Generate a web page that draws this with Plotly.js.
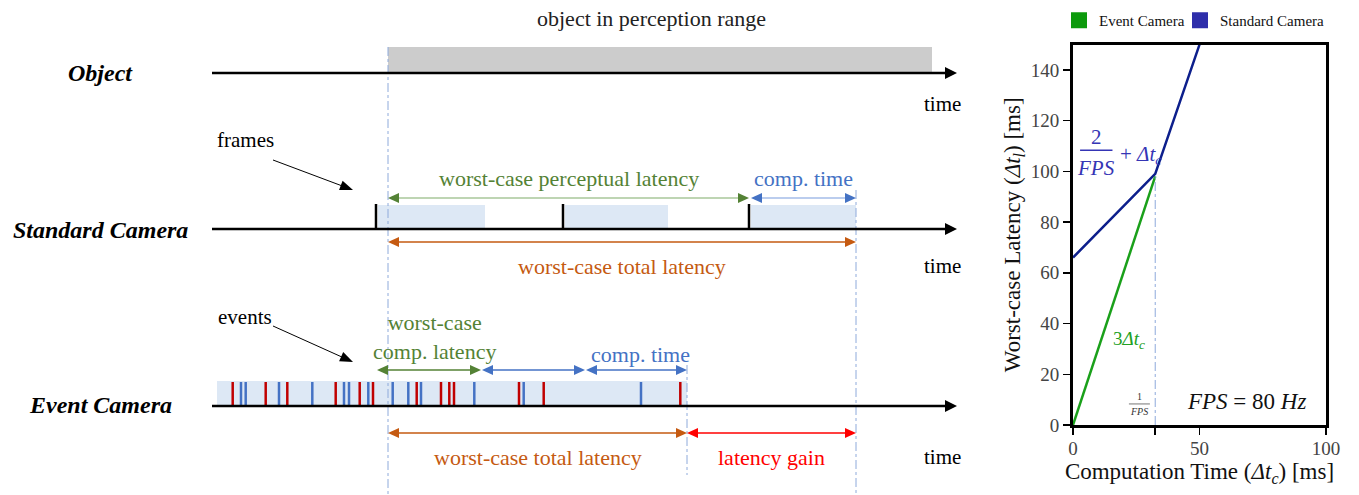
<!DOCTYPE html>
<html><head><meta charset="utf-8">
<script src="https://cdn.plot.ly/plotly-3.0.1.min.js"></script>
<style>html,body{margin:0;padding:0;background:#fff}#chart{width:1359px;height:495px}</style>
</head><body><div id="chart"></div>
<script>
// ---------- Right chart data ----------
const stdCompTime = [0, 32.5, 50];
const stdLatency = [66, 99, 150];
const evtCompTime = [0, 32.5];
const evtLatency = [0, 98];
const invFps = 32.5;              // 1/FPS position on the Δt_c axis (ms)
const invFpsLatency = 98;
const xTickVals = [0, 50, 100];
const xMinorTicks = [32.5];
const yTickVals = [0, 20, 40, 60, 80, 100, 120, 140];
const legendNames = ['Event Camera', 'Standard Camera'];

// ---------- Left timing diagram data (timeline units) ----------
const timelineStart = 212;
const timelineEnd = 957;
const objectAppear = 388;
const objectLeave = 932;
const frameTimes = [376, 563, 749];
const frameProcEnd = [485, 668, 856];
const eventWindow = [217, 687];
const redEvents = [232.7, 265.7, 287.3, 335.7, 359.7, 373, 416.7, 441, 449.3, 454, 519, 543.7, 680.3];
const blueEvents = [241, 245.7, 279, 312.3, 344, 349, 368.3, 392.7, 408.3, 421, 474.3, 523.7, 641];
const stdPerceptual = [388, 749];
const stdCompute = [751, 856];
const stdTotal = [388, 856];
const evtCompLatency = [377, 481];
const evtCompute1 = [482, 585];
const evtCompute2 = [586, 687];
const evtTotal = [388, 687];
const latencyGain = [687, 856];

// row levels (diagram vertical units)
const ROW = {object: 73, standard: 229, event: 406};

const SERIF = '"Liberation Serif", "Times New Roman", serif';
const GREEN = '#548235', GREEN_L = '#a9c79a';
const BLUE = '#4472c4', BLUE_L = '#a4bde8';
const ORANGE = '#c55a11', RED = '#ff0000';
const EVRED = '#c00000';
const PALE = '#dde8f5';

const ann = [];
const shapes = [];

function txt(x, y, text, size, color, extra) {
  ann.push(Object.assign({xref: 'x', yref: 'y', x: x, y: y, text: text, showarrow: false,
    font: {family: SERIF, size: size, color: color}, xanchor: 'center', yanchor: 'middle'}, extra || {}));
}
function line(x0, y0, x1, y1, color, width) {
  shapes.push({type: 'line', xref: 'x', yref: 'y', x0: x0, y0: y0, x1: x1, y1: y1,
    line: {color: color, width: width}, layer: 'above'});
}
// filled triangular head whose tip is at (tx,ty), pointing away from (fx,fy)
function head(tx, ty, fx, fy, len, half, color) {
  const dx = tx - fx, dy = ty - fy, L = Math.hypot(dx, dy);
  const ux = dx / L, uy = dy / L, nx = -uy, ny = ux;
  const bx = tx - ux * len, by = ty - uy * len;
  const p = 'M' + tx + ',' + ty + ' L' + (bx + nx * half) + ',' + (by + ny * half) +
            ' L' + (bx - nx * half) + ',' + (by - ny * half) + ' Z';
  shapes.push({type: 'path', xref: 'x', yref: 'y', path: p, fillcolor: color, line: {width: 0}, layer: 'above'});
}
function arrow(x0, y0, x1, y1, color, width, len, half) {
  const L = Math.hypot(x1 - x0, y1 - y0);
  line(x0, y0, x1 - (x1 - x0) / L * (len - 2), y1 - (y1 - y0) / L * (len - 2), color, width);
  head(x1, y1, x0, y0, len, half, color);
}
function dim(range, y, lineColor, headColor) {
  line(range[0] + 6, y, range[1] - 6, y, lineColor, 1.5);
  head(range[1], y, range[0], y, 11, 5, headColor);
  head(range[0], y, range[1], y, 11, 5, headColor);
}
function vdash(x, y0, y1) {
  shapes.push({type: 'line', xref: 'x', yref: 'y', x0: x, x1: x, y0: y0, y1: y1,
    line: {color: '#8eaadb', width: 1, dash: 'dashdot'}, layer: 'above'});
}

// ---- background boxes ----
shapes.push({type: 'rect', xref: 'x', yref: 'y', x0: objectAppear, x1: objectLeave, y0: ROW.object - 26, y1: ROW.object - 1,
  fillcolor: '#cccccc', line: {width: 0}, layer: 'below'});
frameTimes.forEach((t, i) => {
  shapes.push({type: 'rect', xref: 'x', yref: 'y', x0: t + 2, x1: frameProcEnd[i], y0: ROW.standard - 24, y1: ROW.standard - 1,
    fillcolor: PALE, line: {width: 0}, layer: 'below'});
});
shapes.push({type: 'rect', xref: 'x', yref: 'y', x0: eventWindow[0], x1: eventWindow[1], y0: ROW.event - 25, y1: ROW.event - 1,
  fillcolor: PALE, line: {width: 0}, layer: 'below'});

// ---- vertical reference lines ----
vdash(objectAppear, ROW.object - 26, 495);
vdash(stdTotal[1], 190, 495);
vdash(evtTotal[1], 365, 475);

// ---- timelines ----
[ROW.object, ROW.standard, ROW.event].forEach(y => arrow(timelineStart, y, timelineEnd, y, '#000', 2.5, 12, 6));

// ---- labels ----
txt(100, ROW.object, '<b><i>Object</i></b>', 24, '#000');
txt(100, ROW.standard + 1, '<b><i>Standard Camera</i></b>', 24, '#000');
txt(100, ROW.event - 1, '<b><i>Event Camera</i></b>', 24, '#000');
txt(651, 18, 'object in perception range', 22, '#222');
[ROW.object + 31, ROW.standard + 37, ROW.event + 51].forEach(y => txt(942, y, 'time', 21, '#000'));

txt(245, 140, 'frames', 21, '#000');
arrow(273, 160, 353, 190, '#000', 1, 13, 5);
txt(245, 317, 'events', 21, '#000');
arrow(273, 326, 353, 362, '#000', 1, 13, 5);

// ---- standard camera dimension arrows ----
dim(stdPerceptual, 198, GREEN_L, GREEN);
txt((stdPerceptual[0] + stdPerceptual[1]) / 2, 178, 'worst-case perceptual latency', 22, GREEN);
dim(stdCompute, 198, BLUE_L, BLUE);
txt((stdCompute[0] + stdCompute[1]) / 2, 178, 'comp. time', 22, BLUE);
dim(stdTotal, 242, ORANGE, ORANGE);
txt((stdTotal[0] + stdTotal[1]) / 2, 266, 'worst-case total latency', 22, ORANGE);

// ---- event camera dimension arrows ----
dim(evtCompLatency, 370, GREEN, GREEN);
txt(434, 337, 'worst-case<br>comp. latency', 22, GREEN);
dim(evtCompute1, 370, BLUE, BLUE);
dim(evtCompute2, 370, BLUE, BLUE);
txt(640, 354, 'comp. time', 22, BLUE);
dim(evtTotal, 433, ORANGE, ORANGE);
txt((evtTotal[0] + evtTotal[1]) / 2, 457, 'worst-case total latency', 22, ORANGE);
dim(latencyGain, 433, RED, RED);
txt((latencyGain[0] + latencyGain[1]) / 2, 457, 'latency gain', 22, RED);

// ---- right chart annotations ----
const MATHBLUE = '#3535b5';
function ann2(x, y, text, size, color, extra) {
  ann.push(Object.assign({xref: 'x2', yref: 'y2', x: x, y: y, text: text, showarrow: false,
    font: {family: SERIF, size: size, color: color}, xanchor: 'center', yanchor: 'middle'}, extra || {}));
}
ann2(9.1, 113.5, '2', 21, MATHBLUE);
shapes.push({type: 'line', xref: 'x2', yref: 'y2', x0: 2.8, x1: 15.6, y0: 108.3, y1: 108.3, line: {color: MATHBLUE, width: 1.5}});
ann2(9.1, 101.5, '<i>FPS</i>', 21, MATHBLUE);
ann2(17.8, 106.5, '+ <i>Δt</i><sub><i>c</i></sub>', 21, MATHBLUE, {xanchor: 'left'});
ann2(22.1, 33.5, '3<i>Δt</i><sub><i>c</i></sub>', 19, '#22a022');
ann2(26.1, 11.2, '1', 10, '#333');
shapes.push({type: 'line', xref: 'x2', yref: 'y2', x0: 22.1, x1: 30.4, y0: 8.3, y1: 8.3, line: {color: '#777', width: 1}});
ann2(26.1, 5.3, '<i>FPS</i>', 10, '#333');
ann2(68.4, 9.1, '<i>FPS</i> = 80 <i>Hz</i>', 23, '#111');
shapes.push({type: 'line', xref: 'x2', yref: 'y2', x0: invFps, x1: invFps, y0: 0, y1: invFpsLatency,
  line: {color: '#8eaadb', width: 1, dash: 'dashdot'}});

// ---- traces ----
function segs(times, y0, y1) {
  const xs = [], ys = [];
  times.forEach(t => { xs.push(t, t, null); ys.push(y0, y1, null); });
  return {x: xs, y: ys};
}
const red = segs(redEvents, ROW.event - 24, ROW.event - 1);
const blue = segs(blueEvents, ROW.event - 24, ROW.event - 1);
const fr = segs(frameTimes, ROW.standard - 25, ROW.standard);

const traces = [
  {x: fr.x, y: fr.y, xaxis: 'x', yaxis: 'y', mode: 'lines', line: {color: '#000', width: 2.5}, showlegend: false, hoverinfo: 'skip'},
  {x: blue.x, y: blue.y, xaxis: 'x', yaxis: 'y', mode: 'lines', line: {color: BLUE, width: 2.5}, showlegend: false, hoverinfo: 'skip'},
  {x: red.x, y: red.y, xaxis: 'x', yaxis: 'y', mode: 'lines', line: {color: EVRED, width: 2.5}, showlegend: false, hoverinfo: 'skip'},
  {x: stdCompTime, y: stdLatency, xaxis: 'x2', yaxis: 'y2', mode: 'lines', line: {color: '#0d1f8c', width: 2.5}, showlegend: false, name: legendNames[1]},
  {x: evtCompTime, y: evtLatency, xaxis: 'x2', yaxis: 'y2', mode: 'lines', line: {color: '#1aa01a', width: 2.5}, showlegend: false, name: legendNames[0]},
  {x: [null], y: [null], xaxis: 'x2', yaxis: 'y2', mode: 'markers', marker: {symbol: 'square', size: 16, color: '#0c9a0c'}, name: legendNames[0], legendwidth: 76},
  {x: [null], y: [null], xaxis: 'x2', yaxis: 'y2', mode: 'markers', marker: {symbol: 'square', size: 16, color: '#2e2eaa'}, name: legendNames[1], legendwidth: 120}
];

const layout = {
  width: 1359, height: 495,
  margin: {l: 0, r: 0, t: 0, b: 0},
  paper_bgcolor: '#fff', plot_bgcolor: 'rgba(0,0,0,0)',
  showlegend: true,
  legend: {orientation: 'h', x: 1059 / 1359, y: 1 - 4 / 495, xanchor: 'left', yanchor: 'top',
    entrywidthmode: 'pixels',
    font: {family: SERIF, size: 15, color: '#111'}, bgcolor: 'rgba(0,0,0,0)', itemclick: false},
  xaxis: {domain: [0, 1000 / 1359], range: [0, 1000], visible: false, fixedrange: true},
  yaxis: {domain: [0, 1], range: [495, 0], visible: false, fixedrange: true},
  xaxis2: {domain: [1073 / 1359, 1326 / 1359], range: [0, 100], anchor: 'y2',
    tickmode: 'array', tickvals: xTickVals,
    minor: {tickmode: 'array', tickvals: xMinorTicks, ticks: 'outside', ticklen: 7, tickwidth: 1.5, tickcolor: '#000', showgrid: false},
    ticks: 'outside', ticklen: 7, tickwidth: 1.5, tickcolor: '#000', ticklabelstandoff: -3,
    showline: true, linewidth: 3, linecolor: '#000', mirror: true, showgrid: false, zeroline: false,
    tickfont: {family: SERIF, size: 19, color: '#444'},
    title: {text: 'Computation Time (<i>Δt</i><sub><i>c</i></sub>) [ms]', font: {family: SERIF, size: 23, color: '#111'}, standoff: 0}},
  yaxis2: {domain: [70 / 495, 450.4 / 495], range: [0, 150], anchor: 'x2',
    tickmode: 'array', tickvals: yTickVals,
    ticks: 'outside', ticklen: 7, tickwidth: 1.5, tickcolor: '#000',
    showline: true, linewidth: 3, linecolor: '#000', mirror: true, showgrid: false, zeroline: false,
    tickfont: {family: SERIF, size: 19, color: '#444'},
    title: {text: 'Worst-case Latency (<i>Δt</i><sub><i>l</i></sub>) [ms]', font: {family: SERIF, size: 23, color: '#111'}, standoff: 4}},
  shapes: shapes,
  annotations: ann
};

Plotly.newPlot('chart', traces, layout, {staticPlot: true, displayModeBar: false});
</script></body></html>
